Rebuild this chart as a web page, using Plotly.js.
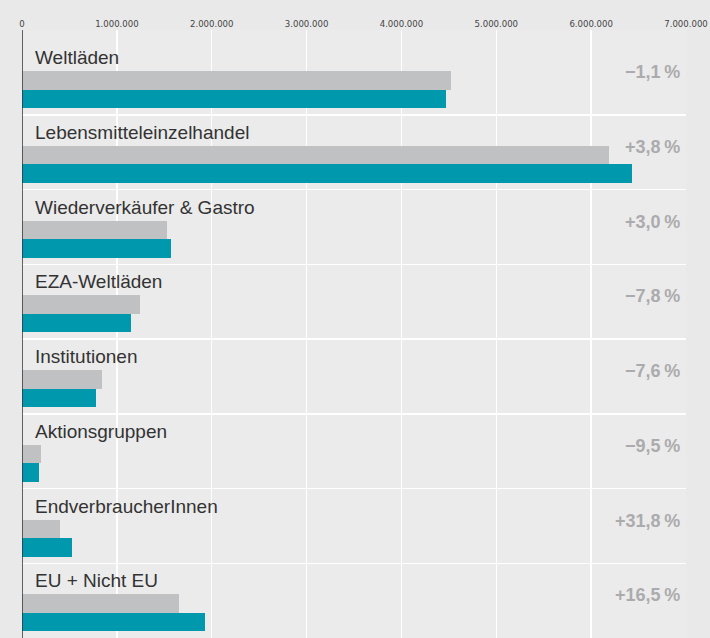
<!DOCTYPE html>
<html><head><meta charset="utf-8">
<script src="https://cdn.plot.ly/plotly-3.0.1.min.js"></script>
<style>html,body{margin:0;padding:0;background:#e9e9e9}</style>
</head><body><div id="chart" style="width:710px;height:638px"></div>
<script>
const categories = ["Weltläden","Lebensmitteleinzelhandel","Wiederverkäufer & Gastro","EZA-Weltläden","Institutionen","Aktionsgruppen","EndverbraucherInnen","EU + Nicht EU"];
const previousYear = [4520000, 6190000, 1524000, 1245000, 845000, 200000, 400000, 1654000];
const currentYear  = [4470000, 6428000, 1570000, 1148000, 781000, 181000, 527000, 1928000];
const changeLabels = ["−1,1\u2009%","+3,8\u2009%","+3,0\u2009%","−7,8\u2009%","−7,6\u2009%","−9,5\u2009%","+31,8\u2009%","+16,5\u2009%"];
const xTickVals = [0,1000000,2000000,3000000,4000000,5000000,6000000,7000000];
const xTickText = ["0","1.000.000","2.000.000","3.000.000","4.000.000","5.000.000","6.000.000","7.000.000"];

const idx = categories.map((c,i)=>i);
const greyPos = 0.54, tealPos = 0.787, barW = 0.248;

const traces = [
  {type:'bar', orientation:'h', x:previousYear, y:idx.map(i=>i+greyPos), width:barW,
   marker:{color:'#c0c1c3'}, hoverinfo:'x', showlegend:false},
  {type:'bar', orientation:'h', x:currentYear, y:idx.map(i=>i+tealPos), width:barW,
   marker:{color:'#0098ad'}, hoverinfo:'x', showlegend:false}
];

const annotations = [];
categories.forEach((c,i)=>{
  annotations.push({xref:'paper', yref:'y', x:0.016, y:i+0.235, text:c, showarrow:false,
    xanchor:'left', yanchor:'middle', font:{family:'Liberation Sans, sans-serif', size:19, color:'#333333'}});
  annotations.push({xref:'paper', yref:'y', x:0.994, y:i+0.43, text:'<b>'+changeLabels[i]+'</b>', showarrow:false,
    xanchor:'right', yanchor:'middle', font:{family:'Liberation Sans, sans-serif', size:18, color:'#ababad'}});
});

const layout = {
  width:710, height:638,
  margin:{l:22, r:24, t:30, b:0, pad:0},
  paper_bgcolor:'#e9e9e9', plot_bgcolor:'#ebebeb',
  barmode:'overlay', bargap:0,
  xaxis:{side:'top', range:[0,7000000], tickvals:xTickVals, ticktext:xTickText,
    showgrid:true, gridcolor:'#ffffff', gridwidth:1.5, zeroline:false, showline:false, ticks:'',
    tickfont:{family:'DejaVu Sans Condensed, Liberation Sans, sans-serif', size:9.5, color:'#444444'}, fixedrange:true},
  yaxis:{range:[8,-0.136], tickvals:[1,2,3,4,5,6,7], showticklabels:false,
    showgrid:true, gridcolor:'#ffffff', gridwidth:1.5, zeroline:false, showline:false, ticks:'', fixedrange:true},
  shapes:[{type:'line', xref:'x', yref:'paper', x0:0, x1:0, y0:0, y1:1, line:{color:'#333333', width:1.5}}],
  annotations:annotations
};
Plotly.newPlot('chart', traces, layout, {displayModeBar:false, staticPlot:true});
</script></body></html>
